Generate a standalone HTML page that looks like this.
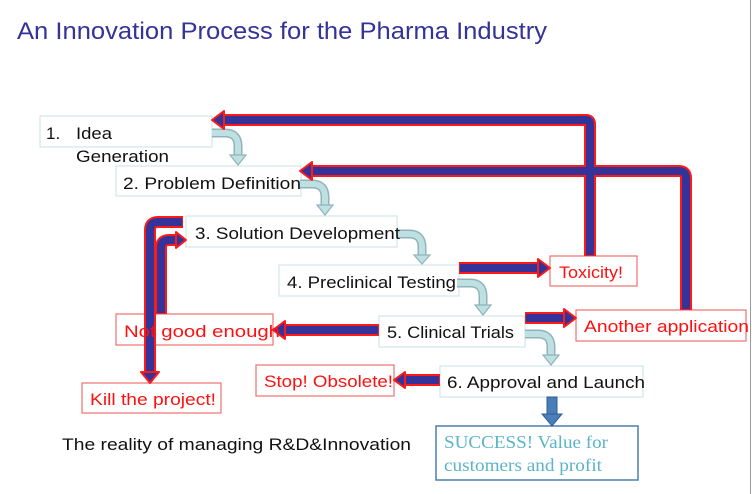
<!DOCTYPE html>
<html><head><meta charset="utf-8"><style>
html,body{margin:0;padding:0;background:#fff}
svg{display:block;font-family:"Liberation Sans","DejaVu Sans",sans-serif}
</style></head><body>
<svg width="752" height="494" viewBox="0 0 752 494">
<line x1="750.5" y1="0" x2="750.5" y2="494" stroke="#999" stroke-width="1"/>
<text x="17" y="39" font-size="24" fill="#333399" textLength="530" lengthAdjust="spacingAndGlyphs">An Innovation Process for the Pharma Industry</text>

<g fill="#fff" stroke="#d2e6ea" stroke-width="1.2">
<rect x="40" y="116" width="172" height="31"/>
<rect x="116" y="166" width="185" height="30"/>
<rect x="186" y="216" width="211" height="31"/>
<rect x="279" y="265" width="180" height="31"/>
<rect x="379" y="316" width="146" height="31"/>
<rect x="440" y="366" width="203" height="31"/>
</g>
<g fill="#fff" stroke="#f07070" stroke-width="1.2">
<rect x="82" y="383" width="139" height="30"/>
<rect x="116" y="314" width="157" height="31"/>
<rect x="256" y="365" width="138" height="31"/>
<rect x="550" y="256" width="87" height="30"/>
<rect x="576" y="310" width="170" height="31"/>
</g>
<rect x="436" y="426" width="202" height="54" fill="#fff" stroke="#4a7eb0" stroke-width="1.5"/>

<g fill="none" stroke="#8fb3b8" stroke-width="9">
<path d="M212 133 H225 Q238 133 238 146 V156"/>
<path d="M300 184 H312 Q325 184 325 197 V206"/>
<path d="M397 234 H409 Q422 234 422 247 V256"/>
<path d="M457 283 H470 Q483 283 483 296 V306"/>
<path d="M525 334 H538 Q551 334 551 347 V356"/>
</g>
<g fill="none" stroke="#bfe0e2" stroke-width="6">
<path d="M212 133 H225 Q238 133 238 146 V156"/>
<path d="M300 184 H312 Q325 184 325 197 V206"/>
<path d="M397 234 H409 Q422 234 422 247 V256"/>
<path d="M457 283 H470 Q483 283 483 296 V306"/>
<path d="M525 334 H538 Q551 334 551 347 V356"/>
</g>
<g fill="#bfe0e2" stroke="#8fb3b8" stroke-width="1.2">
<polygon points="230,155 246,155 238,165"/>
<polygon points="317,205 333,205 325,215"/>
<polygon points="414,255 430,255 422,264"/>
<polygon points="475,305 491,305 483,315"/>
<polygon points="543,355 559,355 551,365"/>
</g>

<g fill="none" stroke="#ff1a1a" stroke-width="12" stroke-linejoin="round">
<path d="M590 256 V124 Q590 120 586 120 H222"/>
<path d="M686 310 V178 Q686 171 679 171 H310"/>
<path d="M183 222 H158 Q150 222 150 230 V376"/>
<path d="M161 314 V248 Q161 240 169 240 H178"/>
<path d="M379 330 H283"/>
<path d="M440 380 H402"/>
<path d="M459 268 H538"/>
<path d="M525 318 H564"/>
</g>
<g fill="none" stroke="#333399" stroke-width="8" stroke-linejoin="round">
<path d="M590 255 V124 Q590 120 586 120 H222"/>
<path d="M686 309 V178 Q686 171 679 171 H310"/>
<path d="M182 222 H158 Q150 222 150 230 V376"/>
<path d="M161 313 V248 Q161 240 169 240 H178"/>
<path d="M378 330 H283"/>
<path d="M439 380 H402"/>
<path d="M460 268 H538"/>
<path d="M526 318 H564"/>
</g>
<g fill="#333399" stroke="#ff1a1a" stroke-width="2" stroke-linejoin="round">
<polygon points="212,120 224,111 224,129"/>
<polygon points="300,171 312,162 312,180"/>
<polygon points="150,383 141,372 159,372"/>
<polygon points="186,240 176,232 176,248"/>
<polygon points="273,330 285,321 285,339"/>
<polygon points="394,380 405,372 405,388"/>
<polygon points="550,268 538,259 538,277"/>
<polygon points="576,318 564,309 564,327"/>
</g>
<g>
<rect x="547" y="397" width="10" height="18" fill="#4a7eb8" stroke="#2f5e94" stroke-width="1"/>
<polygon points="542,414 562,414 552,426" fill="#4a7eb8" stroke="#2f5e94" stroke-width="1"/>
</g>

<g font-size="17" fill="#111" lengthAdjust="spacingAndGlyphs">
<text x="46" y="139">1.</text><text x="76" y="139" textLength="36" lengthAdjust="spacingAndGlyphs">Idea</text>
<text x="76" y="162" textLength="93" lengthAdjust="spacingAndGlyphs">Generation</text>
<text x="123" y="189" textLength="178" lengthAdjust="spacingAndGlyphs">2. Problem Definition</text>
<text x="195" y="239" textLength="205" lengthAdjust="spacingAndGlyphs">3. Solution Development</text>
<text x="287" y="288" textLength="169" lengthAdjust="spacingAndGlyphs">4. Preclinical Testing</text>
<text x="387" y="338" textLength="127" lengthAdjust="spacingAndGlyphs">5. Clinical Trials</text>
<text x="447" y="388" textLength="198" lengthAdjust="spacingAndGlyphs">6. Approval and Launch</text>
<text x="62" y="450" textLength="349" lengthAdjust="spacingAndGlyphs">The reality of managing R&amp;D&amp;Innovation</text>
</g>
<g font-size="17" fill="#ff1010">
<text x="90" y="405" textLength="126" lengthAdjust="spacingAndGlyphs">Kill the project!</text>
<text x="124" y="337" textLength="156" lengthAdjust="spacingAndGlyphs">Not good enough</text>
<text x="264" y="387" textLength="129" lengthAdjust="spacingAndGlyphs">Stop! Obsolete!</text>
<text x="559" y="278" textLength="64" lengthAdjust="spacingAndGlyphs">Toxicity!</text>
<text x="584" y="332" textLength="165" lengthAdjust="spacingAndGlyphs">Another application</text>
</g>
<g font-family="Liberation Serif,serif" font-size="18" fill="#5bb4c8">
<text x="444" y="448" textLength="164" lengthAdjust="spacingAndGlyphs">SUCCESS! Value for</text>
<text x="444" y="471" textLength="158" lengthAdjust="spacingAndGlyphs">customers and profit</text>
</g>
</svg>
</body></html>
